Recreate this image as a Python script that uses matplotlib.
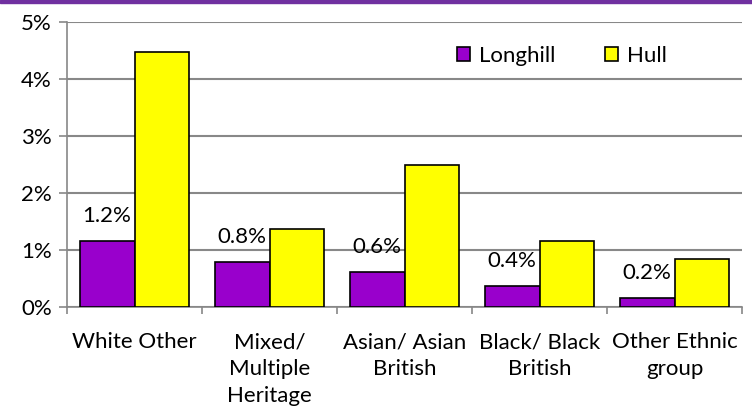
import numpy as np
import matplotlib.pyplot as plt
from matplotlib.patches import Rectangle

# Data (percent)
categories = ["White Other", "Mixed/\nMultiple\nHeritage", "Asian/ Asian\nBritish",
              "Black/ Black\nBritish", "Other Ethnic\ngroup"]
longhill = [1.16, 0.79, 0.61, 0.37, 0.15]
hull = [4.47, 1.37, 2.49, 1.16, 0.85]
longhill_labels = ["1.2%", "0.8%", "0.6%", "0.4%", "0.2%"]

plt.rcParams['font.family'] = ['Lato', 'DejaVu Sans']
fs = 16

fig = plt.figure(figsize=(7.52, 4.19), dpi=100)
ax = fig.add_axes([67 / 752, 1 - 307 / 419, (742 - 67) / 752, (307 - 22) / 419])

# purple strip across the top
fig.patches.append(Rectangle((0, 1 - 3 / 419), 1, 3 / 419, transform=fig.transFigure,
                             color='#7030A0', zorder=5))

x = np.arange(len(categories))
w = 0.407
ax.bar(x - w / 2, longhill, w, color='#9900CC', edgecolor='black', linewidth=1.2,
       label='Longhill', zorder=3)
ax.bar(x + w / 2, hull, w, color='#FFFF00', edgecolor='black', linewidth=1.2,
       label='Hull', zorder=3)

for xi, v, lab in zip(x, longhill, longhill_labels):
    ax.annotate(lab, (xi - w / 2, v), xytext=(0, 18), textcoords='offset points',
                ha='center', va='center', fontsize=fs, zorder=4)

ax.set_xlim(-0.5, len(categories) - 0.5)
ax.set_ylim(0, 5)
ax.set_yticks(range(6))
ax.set_yticklabels([f"{i}%" for i in range(6)], fontsize=fs)
ax.set_xticks(np.arange(-0.5, len(categories), 1.0))
ax.set_xticklabels([])
ax.set_xticks(x, minor=True)
ax.set_xticklabels(categories, minor=True, fontsize=fs, linespacing=1.45, va='top')
ax.tick_params(axis='x', which='minor', length=0, pad=18)
ax.tick_params(axis='x', which='major', length=5, color='#888888', width=1.2)
ax.tick_params(axis='y', length=6, color='#888888', width=1.2, pad=5)

ax.grid(axis='y', color='#888888', linewidth=1.5, zorder=0)
for s in ['top', 'right']:
    ax.spines[s].set_visible(False)
for s in ['left', 'bottom']:
    ax.spines[s].set_color('#888888')
    ax.spines[s].set_linewidth(1.2)

leg = ax.legend(loc='center left', bbox_to_anchor=(0.578, 0.88), ncol=2, frameon=False,
                fontsize=fs, handlelength=0.6, handleheight=0.6, handletextpad=0.4,
                columnspacing=2.2, borderaxespad=0, borderpad=0)

fig.savefig('out.png', dpi=100)
